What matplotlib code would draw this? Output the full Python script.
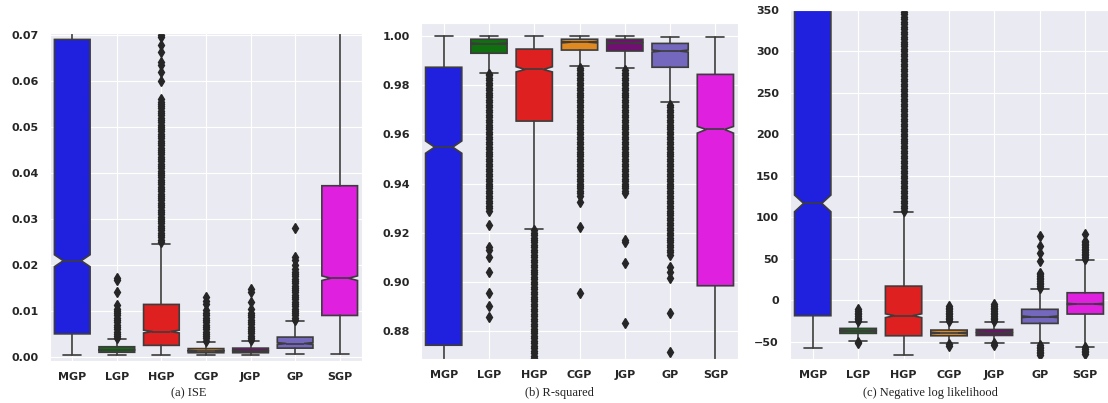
import matplotlib
matplotlib.use("Agg")
import matplotlib.pyplot as plt
import seaborn as sns

sns.set_style("darkgrid")

models = ["MGP", "LGP", "HGP", "CGP", "JGP", "GP", "SGP"]
box_colors = ["#2020df", "#107010", "#df2020", "#df8920", "#701070", "#7468be", "#df20df"]
line_gray = "#3c3c3c"

# (a) ISE
ise_med = [0.0209, 0.0015, 0.0055, 0.0013, 0.0013, 0.0029, 0.0171]
ise_q1 = [0.0050, 0.0010, 0.0025, 0.0009, 0.0009, 0.0019, 0.0090]
ise_q3 = [0.0690, 0.0022, 0.0114, 0.0018, 0.0019, 0.0043, 0.0372]
ise_lo = [0.0004, 0.0003, 0.0003, 0.0003, 0.0003, 0.0006, 0.0007]
ise_hi = [0.1500, 0.0039, 0.0246, 0.0033, 0.0034, 0.0079, 0.0900]
ise_cilo = [0.0196, 0.0014, 0.0052, 0.0012, 0.0012, 0.0027, 0.0166]
ise_cihi = [0.0222, 0.0016, 0.0058, 0.0014, 0.0014, 0.0031, 0.0176]
ise_fliers = [
    [],
    [0.0040, 0.0045, 0.0050, 0.0055, 0.0060, 0.0065, 0.0070, 0.0075, 0.0080,
     0.0085, 0.0090, 0.0095, 0.0100, 0.0105, 0.0112, 0.0140, 0.0168, 0.0172],
    [0.0250, 0.0255, 0.0260, 0.0265, 0.0270, 0.0275, 0.0280, 0.0285, 0.0290,
     0.0295, 0.0300, 0.0305, 0.0310, 0.0315, 0.0320, 0.0325, 0.0330, 0.0335,
     0.0340, 0.0345, 0.0350, 0.0355, 0.0360, 0.0365, 0.0370, 0.0375, 0.0380,
     0.0385, 0.0390, 0.0395, 0.0400, 0.0405, 0.0410, 0.0415, 0.0420, 0.0425,
     0.0430, 0.0435, 0.0440, 0.0445, 0.0450, 0.0455, 0.0460, 0.0465, 0.0470,
     0.0475, 0.0480, 0.0485, 0.0490, 0.0495, 0.0500, 0.0505, 0.0510, 0.0515,
     0.0520, 0.0525, 0.0530, 0.0535, 0.0540, 0.0545, 0.0550, 0.0555, 0.0560,
     0.0600, 0.0620, 0.0634, 0.0642, 0.0662, 0.0678, 0.0695, 0.0700],
    [0.0035, 0.0040, 0.0045, 0.0050, 0.0055, 0.0060, 0.0065, 0.0070, 0.0075,
     0.0080, 0.0085, 0.0090, 0.0095, 0.0102, 0.0115, 0.0122, 0.0131],
    [0.0036, 0.0041, 0.0046, 0.0051, 0.0056, 0.0061, 0.0066, 0.0071, 0.0076,
     0.0081, 0.0086, 0.0091, 0.0095, 0.0105, 0.0120, 0.0142, 0.0147],
    [0.0080, 0.0085, 0.0090, 0.0095, 0.0100, 0.0105, 0.0110, 0.0115, 0.0120,
     0.0125, 0.0130, 0.0135, 0.0140, 0.0145, 0.0150, 0.0155, 0.0160, 0.0165,
     0.0170, 0.0175, 0.0180, 0.0185, 0.0190, 0.0200, 0.0210, 0.0218, 0.0280],
    [],
]

# (b) R-squared
r2_med = [0.9548, 0.9969, 0.9864, 0.9975, 0.9972, 0.9939, 0.9620]
r2_q1 = [0.8742, 0.9930, 0.9654, 0.9943, 0.9939, 0.9873, 0.8984]
r2_q3 = [0.9873, 0.9987, 0.9947, 0.9987, 0.9987, 0.9970, 0.9844]
r2_lo = [0.7500, 0.9848, 0.9216, 0.9878, 0.9869, 0.9730, 0.7800]
r2_hi = [0.9999, 1.0000, 1.0000, 1.0000, 1.0000, 0.9998, 0.9998]
r2_cilo = [0.9523, 0.9966, 0.9854, 0.9972, 0.9969, 0.9935, 0.9605]
r2_cihi = [0.9573, 0.9972, 0.9875, 0.9978, 0.9975, 0.9943, 0.9632]
r2_fliers = [
    [],
    [0.929, 0.930, 0.931, 0.932, 0.933, 0.934, 0.935, 0.936, 0.937, 0.938,
     0.939, 0.940, 0.941, 0.942, 0.943, 0.944, 0.945, 0.946, 0.947, 0.948,
     0.949, 0.950, 0.951, 0.952, 0.953, 0.954, 0.955, 0.956, 0.957, 0.958,
     0.959, 0.960, 0.961, 0.962, 0.963, 0.964, 0.965, 0.966, 0.967, 0.968,
     0.969, 0.970, 0.971, 0.972, 0.973, 0.974, 0.975, 0.976, 0.977, 0.978,
     0.979, 0.980, 0.981, 0.982, 0.983, 0.984, 0.9845,
     0.9230, 0.9143, 0.9130, 0.9102, 0.9041, 0.8956, 0.8903, 0.8858],
    [0.869, 0.870, 0.871, 0.872, 0.873, 0.874, 0.875, 0.876, 0.877, 0.878,
     0.879, 0.880, 0.881, 0.882, 0.883, 0.884, 0.885, 0.886, 0.887, 0.888,
     0.889, 0.890, 0.891, 0.892, 0.893, 0.894, 0.895, 0.896, 0.897, 0.898,
     0.899, 0.900, 0.901, 0.902, 0.903, 0.904, 0.905, 0.906, 0.907, 0.908,
     0.909, 0.910, 0.911, 0.912, 0.913, 0.914, 0.915, 0.916, 0.917, 0.918,
     0.919, 0.920, 0.921],
    [0.935, 0.936, 0.937, 0.938, 0.939, 0.940, 0.941, 0.942, 0.943, 0.944,
     0.945, 0.946, 0.947, 0.948, 0.949, 0.950, 0.951, 0.952, 0.953, 0.954,
     0.955, 0.956, 0.957, 0.958, 0.959, 0.960, 0.961, 0.962, 0.963, 0.964,
     0.965, 0.966, 0.967, 0.968, 0.969, 0.970, 0.971, 0.972, 0.973, 0.974,
     0.975, 0.976, 0.977, 0.978, 0.979, 0.980, 0.981, 0.982, 0.983, 0.984,
     0.985, 0.986, 0.987, 0.9325, 0.9222, 0.8955],
    [0.936, 0.937, 0.938, 0.939, 0.940, 0.941, 0.942, 0.943, 0.944, 0.945,
     0.946, 0.947, 0.948, 0.949, 0.950, 0.951, 0.952, 0.953, 0.954, 0.955,
     0.956, 0.957, 0.958, 0.959, 0.960, 0.961, 0.962, 0.963, 0.964, 0.965,
     0.966, 0.967, 0.968, 0.969, 0.970, 0.971, 0.972, 0.973, 0.974, 0.975,
     0.976, 0.977, 0.978, 0.979, 0.980, 0.981, 0.982, 0.983, 0.984, 0.985,
     0.986, 0.9170, 0.9160, 0.9075, 0.8831],
    [0.911, 0.912, 0.913, 0.914, 0.915, 0.916, 0.917, 0.918, 0.919, 0.920,
     0.921, 0.922, 0.923, 0.924, 0.925, 0.926, 0.927, 0.928, 0.929, 0.930,
     0.931, 0.932, 0.933, 0.934, 0.935, 0.936, 0.937, 0.938, 0.939, 0.940,
     0.941, 0.942, 0.943, 0.944, 0.945, 0.946, 0.947, 0.948, 0.949, 0.950,
     0.951, 0.952, 0.953, 0.954, 0.955, 0.956, 0.957, 0.958, 0.959, 0.960,
     0.961, 0.962, 0.963, 0.964, 0.965, 0.966, 0.967, 0.968, 0.969, 0.970,
     0.971, 0.972, 0.9060, 0.9040, 0.9015, 0.8872, 0.8713],
    [],
]

# (c) Negative log likelihood
nll_med = [116.8, -37.0, -18.7, -39.5, -39.0, -20.0, -4.6]
nll_q1 = [-18.7, -40.0, -42.9, -42.9, -42.5, -28.0, -16.7]
nll_q3 = [600.0, -34.0, 17.0, -36.0, -35.3, -11.0, 9.0]
nll_lo = [-58.1, -48.9, -66.2, -52.0, -51.4, -52.0, -56.1]
nll_hi = [1200.0, -26.0, 106.7, -26.0, -26.0, 13.8, 48.8]
nll_cilo = [106.7, -37.8, -21.0, -40.3, -39.8, -21.0, -5.4]
nll_cihi = [126.8, -36.2, -16.4, -38.7, -38.2, -19.0, -3.8]
nll_fliers = [
    [],
    [-25, -23, -21, -19, -17, -15, -13, -11, -50, -52],
    [108, 111, 114, 117, 120, 123, 126, 129, 132, 135, 138, 141, 144, 147,
     150, 153, 156, 159, 162, 165, 168, 171, 174, 177, 180, 183, 186, 189,
     192, 195, 198, 201, 204, 207, 210, 213, 216, 219, 222, 225, 228, 231,
     234, 237, 240, 243, 246, 249, 252, 255, 258, 261, 264, 267, 270, 273,
     276, 279, 282, 285, 288, 291, 294, 297, 300, 303, 306, 309, 312, 315,
     318, 321, 324, 327, 330, 333, 336, 339, 342, 345, 348, 351],
    [-25, -23, -21, -19, -17, -15, -13, -11, -9, -7, -53, -55],
    [-25, -23, -21, -19, -17, -15, -13, -11, -9, -7, -5, -52, -54],
    [15, 17, 19, 21, 23, 25, 27, 29, 31, 33, 47.6, 56.5, 65.3, 77.4,
     -54, -56, -58, -60, -62, -64, -66],
    [50, 52, 54, 56, 58, 60, 62, 64, 66, 68, 70, 72, 80,
     -57, -59, -61, -63, -65],
]


def draw_panel(ax, med, q1, q3, lo, hi, cilo, cihi, fliers):
    stats = []
    for i in range(len(models)):
        stats.append(dict(med=med[i], q1=q1[i], q3=q3[i], whislo=lo[i],
                          whishi=hi[i], cilo=cilo[i], cihi=cihi[i],
                          fliers=fliers[i], label=models[i]))
    bp = ax.bxp(stats, positions=range(len(models)), widths=0.8,
                shownotches=True, patch_artist=True,
                boxprops=dict(edgecolor=line_gray, linewidth=1.2),
                whiskerprops=dict(color=line_gray, linewidth=1.2),
                capprops=dict(color=line_gray, linewidth=1.2),
                medianprops=dict(color=line_gray, linewidth=1.2),
                flierprops=dict(marker="d", markersize=5,
                                markerfacecolor="#262626",
                                markeredgecolor="#262626"))
    for patch, c in zip(bp["boxes"], box_colors):
        patch.set_facecolor(c)
    ax.set_xlim(-0.5, len(models) - 0.5)
    ax.tick_params(axis="both", length=0, pad=8, labelsize=8,
                   labelcolor="#262626")
    for lab in ax.get_xticklabels() + ax.get_yticklabels():
        lab.set_fontweight("bold")


fig = plt.figure(figsize=(11.08, 4.03), dpi=100)

ax1 = fig.add_axes([0.0451, 0.1042, 0.2816, 0.8139])
draw_panel(ax1, ise_med, ise_q1, ise_q3, ise_lo, ise_hi, ise_cilo, ise_cihi, ise_fliers)
ax1.set_ylim(-0.0009, 0.0704)
ax1.set_yticks([0.0, 0.01, 0.02, 0.03, 0.04, 0.05, 0.06, 0.07])
ax1.set_yticklabels(["0.00", "0.01", "0.02", "0.03", "0.04", "0.05", "0.06", "0.07"])

ax2 = fig.add_axes([0.380, 0.1092, 0.2861, 0.8337])
draw_panel(ax2, r2_med, r2_q1, r2_q3, r2_lo, r2_hi, r2_cilo, r2_cihi, r2_fliers)
ax2.set_ylim(0.8686, 1.0053)
ax2.set_yticks([0.88, 0.90, 0.92, 0.94, 0.96, 0.98, 1.00])
ax2.set_yticklabels(["0.88", "0.90", "0.92", "0.94", "0.96", "0.98", "1.00"])

ax3 = fig.add_axes([0.713, 0.1092, 0.287, 0.866])
draw_panel(ax3, nll_med, nll_q1, nll_q3, nll_lo, nll_hi, nll_cilo, nll_cihi, nll_fliers)
ax3.set_ylim(-70.9, 350)
ax3.set_yticks([-50, 0, 50, 100, 150, 200, 250, 300, 350])
ax3.set_yticklabels(["\u221250", "0", "50", "100", "150", "200", "250", "300", "350"])

captions = ["(a) ISE", "(b) R-squared", "(c) Negative log likelihood"]
for x, cap in zip([189, 559, 930], captions):
    fig.text(x / 1108, 1 - 393 / 403, cap, ha="center", va="center",
             fontsize=9, family="Liberation Serif", color="#222222")

fig.savefig("out.png", dpi=100)
